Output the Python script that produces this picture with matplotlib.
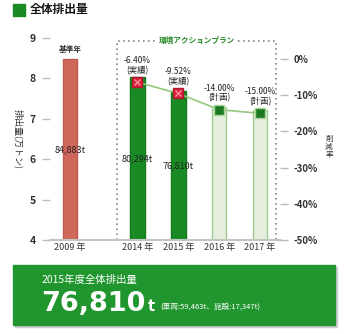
import matplotlib.pyplot as plt
from matplotlib.patches import Rectangle

plt.rcParams['font.family'] = ['Noto Sans CJK JP', 'DejaVu Sans']

years = ["2009 年", "2014 年", "2015 年", "2016 年", "2017 年"]
xpos = [0, 1.65, 2.65, 3.65, 4.65]
emissions = [84883, 80294, 76810, 73000, 72150]   # t
reduction = [-6.40, -9.52, -14.00, -15.00]        # % vs 2009
status = ["実績", "実績", "計画", "計画"]
value_labels = ["84,883t", "80,294t", "76,810t", None, None]

face = ["#d0675b", "#1a8a24", "#1a8a24", "#e6eedd", "#e6eedd"]
edge = ["#bf5a4f", "#137a1c", "#137a1c", "#9dcb90", "#9dcb90"]

fig = plt.figure(figsize=(3.5, 3.34), dpi=100)
ax = fig.add_axes([50/350, 94/334, 230/350, 202/334])

vals = [e / 10000 for e in emissions]
ax.bar(xpos, [v - 4 for v in vals], bottom=4, width=0.36,
       color=face, edgecolor=edge, linewidth=1, zorder=2)

ax.set_xlim(-0.49, 5.14)
ax.set_ylim(4, 9)
ax.set_yticks([4, 5, 6, 7, 8, 9])
ax.set_xticks(xpos)
ax.set_xticklabels(years, fontsize=6.5, color="#333333")
ax.tick_params(axis="x", length=0, pad=2)
ax.tick_params(axis="y", length=6, color="#bbbbbb", width=1, pad=4,
               labelsize=7.5, labelcolor="#333333")
for lab in ax.get_yticklabels():
    lab.set_fontweight("bold")
for s in ["top", "right", "left"]:
    ax.spines[s].set_visible(False)
ax.spines["bottom"].set_color("#c4c4c4")
ax.spines["bottom"].set_linewidth(1.5)

ax.text(-0.139, 0.5, "排出量(万トン)", rotation=270, fontsize=6.5,
        ha="center", va="center", color="#333333", transform=ax.transAxes)

# value labels inside bars
for x, v, lab in zip(xpos, vals, value_labels):
    if lab:
        ax.text(x, (4 + v) / 2, lab, fontsize=6.5, ha="center",
                va="center", color="#222222", zorder=4)
ax.text(xpos[0], vals[0] + 0.12, "基準年", fontsize=5.5, fontweight="bold",
        ha="center", va="bottom", color="#333333")

# action plan box
bx0, bx1, by1 = 1.15, 5.05, 8.93
ax.plot([bx0, bx0, bx1, bx1], [4, by1, by1, 4], linestyle=(0, (1, 2)),
        color="#888888", linewidth=1.2, clip_on=False, zorder=1)
ax.text(3.1, by1, "環境アクションプラン", fontsize=5.5, fontweight="bold",
        color="#2a8a2a", ha="center", va="center",
        bbox=dict(facecolor="white", edgecolor="none", pad=1), zorder=3)

# reduction rate on secondary axis
ax2 = ax.twinx()
ax2.set_ylim(-50, 5.8)
ax2.set_yticks([0, -10, -20, -30, -40, -50])
ax2.set_yticklabels(["0%", "-10%", "-20%", "-30%", "-40%", "-50%"])
ax2.tick_params(axis="y", length=6, color="#bbbbbb", width=1, pad=4,
                labelsize=7, labelcolor="#333333")
for lab in ax2.get_yticklabels():
    lab.set_fontweight("bold")
for s in ax2.spines.values():
    s.set_visible(False)
ax2.text(1.213, 0.46, "削\n減\n率", transform=ax2.transAxes, fontsize=5.5,
         ha="center", va="center", linespacing=0.95, color="#333333")

rx = xpos[1:]
ax2.plot(rx, reduction, color="#93c97c", linewidth=1.2, zorder=3)
for x, r, st in zip(rx, reduction, status):
    if st == "実績":
        ax2.plot(x, r, marker="s", markersize=7, color="#e0233d",
                 markeredgecolor="#b01830", zorder=4)
        ax2.plot(x, r, marker="x", markersize=4, color="#f5a0b0",
                 markeredgewidth=0.8, zorder=5)
    else:
        ax2.plot(x, r, marker="s", markersize=7, color="#1c7a22",
                 markeredgecolor="#a8d49a", zorder=4)
    ax2.annotate(f"{r:.2f}%\n({st})", (x, r), xytext=(0, 5),
                 textcoords="offset points", ha="center", va="bottom",
                 fontsize=6, linespacing=1.15, color="#222222", zorder=6)

# header
fig.patches.append(Rectangle((13/350, 1 - 16/334), 12/350, 12/334,
                             transform=fig.transFigure, color="#1a8a24"))
fig.text(30/350, 1 - 10/334, "全体排出量", fontsize=8.5, fontweight="bold",
         va="center", ha="left", color="#111111")

# summary banner
fig.patches.append(Rectangle((15/350, 7/334), 322/350, 60/334,
                             transform=fig.transFigure, color="#cfcfcf"))
fig.patches.append(Rectangle((13/350, 9/334), 322/350, 60/334,
                             transform=fig.transFigure, color="#21962f"))
fig.text(42/350, 1 - 280/334, "2015年度全体排出量", fontsize=7.5,
         color="white", va="center", ha="left")
fig.text(41/350, 1 - 311/334, f"{emissions[2]:,}", fontsize=19.5,
         fontweight="bold", color="white", va="baseline", ha="left",
         family="DejaVu Sans")
fig.text(148/350, 1 - 311/334, "t", fontsize=10.5, fontweight="bold",
         color="white", va="baseline", ha="left", family="DejaVu Sans")
fig.text(160/350, 1 - 309/334, "(車両:59,463t、施設:17,347t)", fontsize=5.5,
         color="white", va="baseline", ha="left")

fig.savefig("out.png", dpi=100)
